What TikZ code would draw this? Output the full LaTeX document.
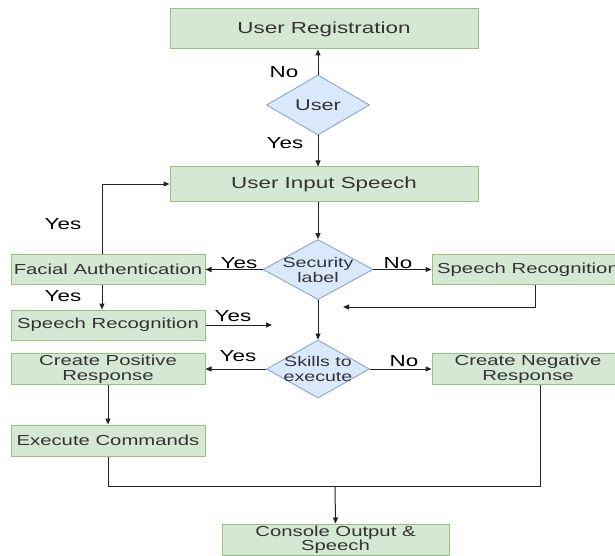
\documentclass[tikz,border=0pt]{standalone}
\usepackage{fontspec}
\setmainfont{Liberation Sans}[FakeStretch=1.4]
\usetikzlibrary{shapes.geometric,arrows.meta}
\definecolor{gfill}{HTML}{D5E8D4}
\definecolor{gline}{HTML}{97C27C}
\definecolor{bfill}{HTML}{DAE8FC}
\definecolor{bline}{HTML}{7FA0D0}
\definecolor{txt}{HTML}{333333}
\definecolor{wirec}{HTML}{222222}
\begin{document}
\begin{tikzpicture}[x=1pt,y=-1pt,
 gbox/.style={draw=gline,fill=gfill,line width=1pt,text=txt,inner sep=0pt,align=center,font=\fontsize{14.5}{14.5}\selectfont},
 bigbox/.style={gbox,font=\fontsize{16}{16}\selectfont},
 dia/.style={diamond,draw=bline,fill=bfill,line width=0.8pt,inner sep=0pt},
 dtxt/.style={text=txt,inner sep=0pt,align=center,font=\fontsize{14}{15}\selectfont},
 lbl/.style={text=black,font=\fontsize{16}{16}\selectfont,inner sep=0pt},
 conn/.style={draw=wirec,line width=1pt,-{Triangle[length=6pt,width=5pt]}},
 wire/.style={draw=wirec,line width=1pt}]
\clip (0,0) rectangle (615,556);
% boxes
\node[bigbox,minimum width=308,minimum height=40] (reg) at (324,29) {User Registration};
\node[dia,minimum width=103,minimum height=60] (user) at (318,105) {};
\node[dtxt,font=\fontsize{15.5}{16}\selectfont] (usert) at (user) {User};
\node[bigbox,minimum width=308,minimum height=34] (uis) at (324,184) {User Input Speech};
\node[dia,minimum width=110,minimum height=60] (sec) at (318,269.5) {};
\node[dtxt] (sect) at (sec) {Security\\label};
\node[gbox,minimum width=194,minimum height=30] (fa) at (108,269.5) {Facial Authentication};
\node[gbox,minimum width=192,minimum height=30] (srr) at (528,269.5) {Speech Recognition};
\node[gbox,minimum width=194,minimum height=30] (srl) at (108,325) {Speech Recognition};
\node[dia,minimum width=103,minimum height=58] (sk) at (318,369) {};
\node[dtxt] (skt) at (sk) {Skills to\\execute};
\node[gbox,minimum width=194,minimum height=31] (cpr) at (108,369) {Create Positive\\Response};
\node[gbox,minimum width=192,minimum height=31] (cnr) at (528,369) {Create Negative\\Response};
\node[gbox,minimum width=194,minimum height=31] (ec) at (108,440.5) {Execute Commands};
\node[gbox,minimum width=227,minimum height=31] (cos) at (335.5,539.5) {Console Output \&\\Speech};
% helper coordinates
\coordinate (m1) at (343,307);
\coordinate (m2) at (272,325);
\coordinate (j) at (335,486);
% connectors
\draw[conn] (user.north) -- (user.north |- reg.south);
\draw[conn] (user.south) -- (user.south |- uis.north);
\draw[conn] (uis.south -| sec.north) -- (sec.north);
\draw[conn] (sec.west) -- (sec.west -| fa.east);
\draw[conn] (sec.east) -- (sec.east -| srr.west);
\draw[conn] ([xshift=7pt]srr.south) |- (m1);
\draw[conn] (sec.south) -- (sk.north);
\draw[conn] ([xshift=-6pt]fa.north) |- (uis.west);
\draw[conn] ([xshift=-6pt]fa.south) -- ([xshift=-6pt]srl.north);
\draw[conn] (srl.east) -- (m2);
\draw[conn] (sk.west) -- (sk.west -| cpr.east);
\draw[conn] (sk.east) -- (sk.east -| cnr.west);
\draw[conn] (cpr.south) -- (ec.north);
\draw[wire] (ec.south) |- (j);
\draw[wire] ([xshift=12pt]cnr.south) |- (j);
\draw[conn] (j) -- (cos.north);
% labels
\node[lbl] (l1) at (284,72) {No};
\node[lbl] (l2) at (285,143) {Yes};
\node[lbl] (l3) at (63,224) {Yes};
\node[lbl] (l4) at (239,263) {Yes};
\node[lbl] (l5) at (63,296) {Yes};
\node[lbl] (l6) at (233,316) {Yes};
\node[lbl] (l7) at (398,263) {No};
\node[lbl] (l8) at (238,356) {Yes};
\node[lbl] (l9) at (404,361) {No};
\end{tikzpicture}
\end{document}
